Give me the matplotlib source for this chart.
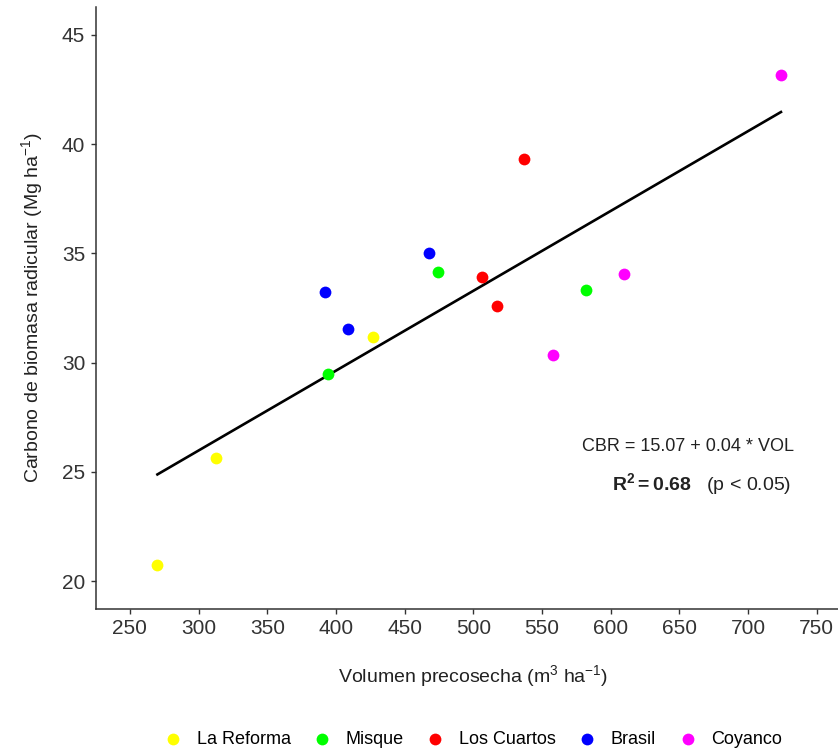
import numpy as np
import matplotlib
matplotlib.use('Agg')
import matplotlib.pyplot as plt

plt.rcParams['font.family'] = ['Liberation Sans', 'DejaVu Sans']
plt.rcParams['mathtext.fontset'] = 'custom'
plt.rcParams['mathtext.rm'] = 'Liberation Sans'
plt.rcParams['mathtext.it'] = 'Liberation Sans:italic'
plt.rcParams['mathtext.bf'] = 'Liberation Sans:bold'

# data
sites = ['La Reforma', 'Misque', 'Los Cuartos', 'Brasil', 'Coyanco']
colors = ['#FFFF00', '#00FF00', '#FF0000', '#0000FF', '#FF00FF']
vol = [[270, 313, 427],
       [394, 474, 582],
       [506, 517, 537],
       [392, 409, 468],
       [558, 610, 724]]
cbr = [[20.73, 25.62, 31.16],
       [29.46, 34.13, 33.31],
       [33.94, 32.60, 39.32],
       [33.25, 31.54, 35.00],
       [30.33, 34.07, 43.17]]

W, H = 838, 750
fig = plt.figure(figsize=(W / 100, H / 100), dpi=100)
ax = fig.add_axes([95.6 / W, 1 - 609 / H, (851 - 95.6) / W, (609 - 7) / H])

for site, col, x, y in zip(sites, colors, vol, cbr):
    ax.scatter(x, y, s=72, color=col, label=site, zorder=3, linewidths=0)

# linear fit through all points
allx = np.concatenate([np.array(v, float) for v in vol])
ally = np.concatenate([np.array(v, float) for v in cbr])
b, a = np.polyfit(allx, ally, 1)
xs = np.array([allx.min(), allx.max()])
ax.plot(xs, a + b * xs, color='black', lw=1.9, zorder=2)

ax.set_xlim(225, 775)
ax.set_ylim(18.72, 46.28)
ax.set_xticks(np.arange(250, 751, 50))
ax.set_yticks(np.arange(20, 46, 5))

for s in ['top', 'right']:
    ax.spines[s].set_visible(False)
for s in ['left', 'bottom']:
    ax.spines[s].set_color('#333333')
    ax.spines[s].set_linewidth(1.1)
ax.tick_params(axis='both', length=3.5, width=1, color='#333333',
               labelsize=15, labelcolor='#333333', pad=4)

ax.set_xlabel('Volumen precosecha (m$^{3}$ ha$^{-1}$)', fontsize=14, color='#222222')
ax.xaxis.set_label_coords(0.5, -(676 - 609) / (609 - 7), transform=ax.transAxes)
ax.xaxis.label.set_va('center')
ax.set_ylabel('Carbono de biomasa radicular (Mg ha$^{-1}$)', fontsize=14, color='#222222')
ax.yaxis.set_label_coords(-(95.6 - 32) / (851 - 95.6), 0.5)
ax.yaxis.label.set_va('center')

# equation annotation
ax.text(656, 26.15, 'CBR = 15.07 + 0.04 * VOL', fontsize=13,
        ha='center', va='center', color='#222222')
ax.text(666, 24.45, r'$\mathbf{R^{2}=0.68}$   (p < 0.05)', fontsize=14,
        ha='center', va='center', color='#222222')

handles, labels = ax.get_legend_handles_labels()
fig.legend(handles, labels, loc='center', bbox_to_anchor=(474 / W, 1 - 739 / H),
           ncol=5, frameon=False, fontsize=13, handlelength=0.8,
           handletextpad=0.9, columnspacing=1.35, borderaxespad=0,
           borderpad=0)

fig.savefig('out.png', dpi=100)
